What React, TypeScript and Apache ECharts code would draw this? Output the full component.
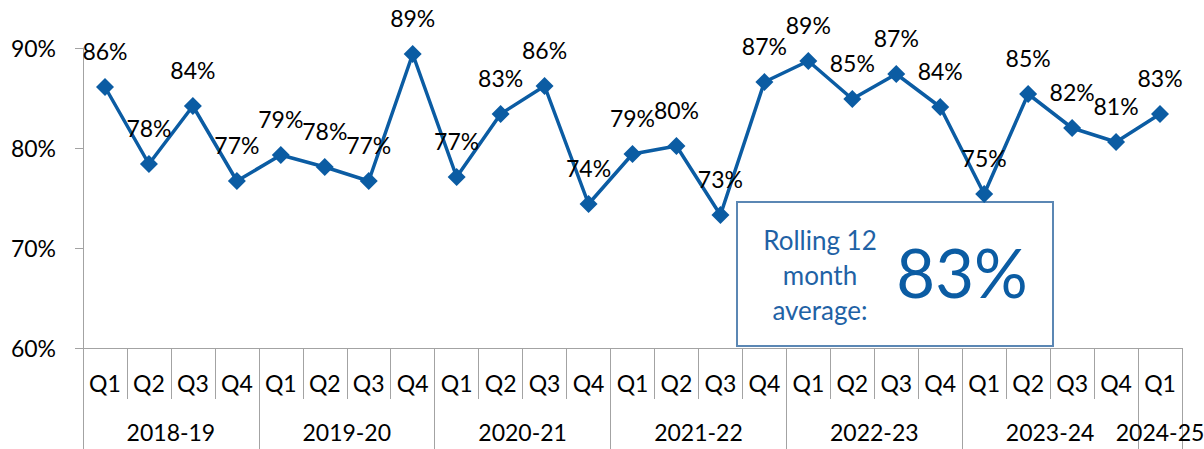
import React, { useEffect, useRef } from "react";
import * as echarts from "echarts";

// Quarterly performance, 2018-19 to 2024-25 Q1
const quarters = [
  "Q1", "Q2", "Q3", "Q4",
  "Q1", "Q2", "Q3", "Q4",
  "Q1", "Q2", "Q3", "Q4",
  "Q1", "Q2", "Q3", "Q4",
  "Q1", "Q2", "Q3", "Q4",
  "Q1", "Q2", "Q3", "Q4",
  "Q1",
];
const years = ["2018-19", "2019-20", "2020-21", "2021-22", "2022-23", "2023-24", "2024-25"];
const quartersPerYear = [4, 4, 4, 4, 4, 4, 1];
const values = [
  86.1, 78.4, 84.2, 76.7,
  79.3, 78.1, 76.7, 89.4,
  77.1, 83.4, 86.2, 74.4,
  79.4, 80.2, 73.3, 86.6,
  88.7, 84.9, 87.4, 84.1,
  75.4, 85.4, 82.0, 80.6,
  83.4,
];
const yTicks = [60, 70, 80, 90];

const FONT = "Lato, 'Noto Sans', sans-serif";
const BLUE = "#0B5CA3";
const AXIS_GRAY = "#A3A3A3";

// Year group boundaries and centres, in category units
const yearBounds: number[] = [0];
quartersPerYear.forEach((n) => yearBounds.push(yearBounds[yearBounds.length - 1] + n));
const yearCentres = years.map((_, i) => (yearBounds[i] + yearBounds[i + 1]) / 2);

// Rolling 12 month average from the latest four quarters
const last4 = values.slice(-4);
const rollingAvg = Math.round(last4.reduce((a, b) => a + b, 0) / last4.length);

export default function App() {
  const ref = useRef<HTMLDivElement>(null);

  useEffect(() => {
    document.body.style.margin = "0";
    if (!ref.current) return;
    const chart = echarts.init(ref.current, null, { renderer: "svg" });
    chart.setOption({
      animation: false,
      backgroundColor: "#ffffff",
      grid: { left: 83, right: 22, top: 48, bottom: 101, containLabel: false, outerBoundsMode: "none" },
      xAxis: [
        {
          type: "category",
          data: quarters,
          position: "bottom",
          boundaryGap: true,
          axisLine: { show: true, lineStyle: { color: AXIS_GRAY, width: 1 } },
          axisTick: { show: true, interval: 0, length: 51, lineStyle: { color: AXIS_GRAY } },
          axisLabel: { interval: 0, fontFamily: FONT, fontSize: 23, color: "#000", margin: 23 },
          splitLine: { show: false },
        },
        {
          type: "value",
          min: 0,
          max: quarters.length,
          position: "bottom",
          axisLine: { show: false },
          splitLine: { show: false },
          axisTick: {
            show: true,
            customValues: yearBounds,
            length: 110,
            lineStyle: { color: AXIS_GRAY },
          },
          axisLabel: {
            show: true,
            customValues: yearCentres,
            fontFamily: FONT,
            fontSize: 23,
            color: "#000",
            margin: 72,
            formatter: (v: number) => {
              const i = yearCentres.findIndex((c) => Math.abs(c - v) < 1e-6);
              return i >= 0 ? years[i] : "";
            },
          },
        },
      ],
      yAxis: {
        type: "value",
        min: yTicks[0],
        max: yTicks[yTicks.length - 1],
        interval: 10,
        axisLine: { show: true, lineStyle: { color: AXIS_GRAY } },
        axisTick: { show: true, length: 8, lineStyle: { color: AXIS_GRAY } },
        axisLabel: { fontFamily: FONT, fontSize: 23, color: "#000", margin: 27, formatter: "{value}%" },
        splitLine: { show: false },
      },
      series: [
        {
          type: "line",
          xAxisIndex: 0,
          data: values,
          symbol: "diamond",
          symbolSize: 18,
          lineStyle: { color: BLUE, width: 3.5 },
          itemStyle: { color: BLUE },
          label: {
            show: true,
            position: "top",
            distance: 16,
            fontFamily: FONT,
            fontSize: 23,
            color: "#000",
            formatter: (p: any) => `${Math.round(p.value)}%`,
          },
        },
      ],
      graphic: [
        {
          type: "group",
          z: 100,
          children: [
            {
              type: "rect",
              shape: { x: 737, y: 202, width: 316, height: 144 },
              style: { fill: "#ffffff", stroke: "#5B87B4", lineWidth: 2 },
            },
            {
              type: "text",
              x: 820,
              y: 275,
              style: {
                text: "Rolling 12\nmonth\naverage:",
                font: `26px ${FONT}`,
                fill: "#1F62A5",
                align: "center",
                verticalAlign: "middle",
                lineHeight: 35,
              },
            },
            {
              type: "text",
              x: 962,
              y: 272,
              style: {
                text: `${rollingAvg}%`,
                font: `67px ${FONT}`,
                fill: BLUE,
                align: "center",
                verticalAlign: "middle",
              },
            },
          ],
        },
      ],
    });
    return () => chart.dispose();
  }, []);

  return <div ref={ref} style={{ position: "absolute", left: 0, top: 0, width: 1204, height: 449 }} />;
}
